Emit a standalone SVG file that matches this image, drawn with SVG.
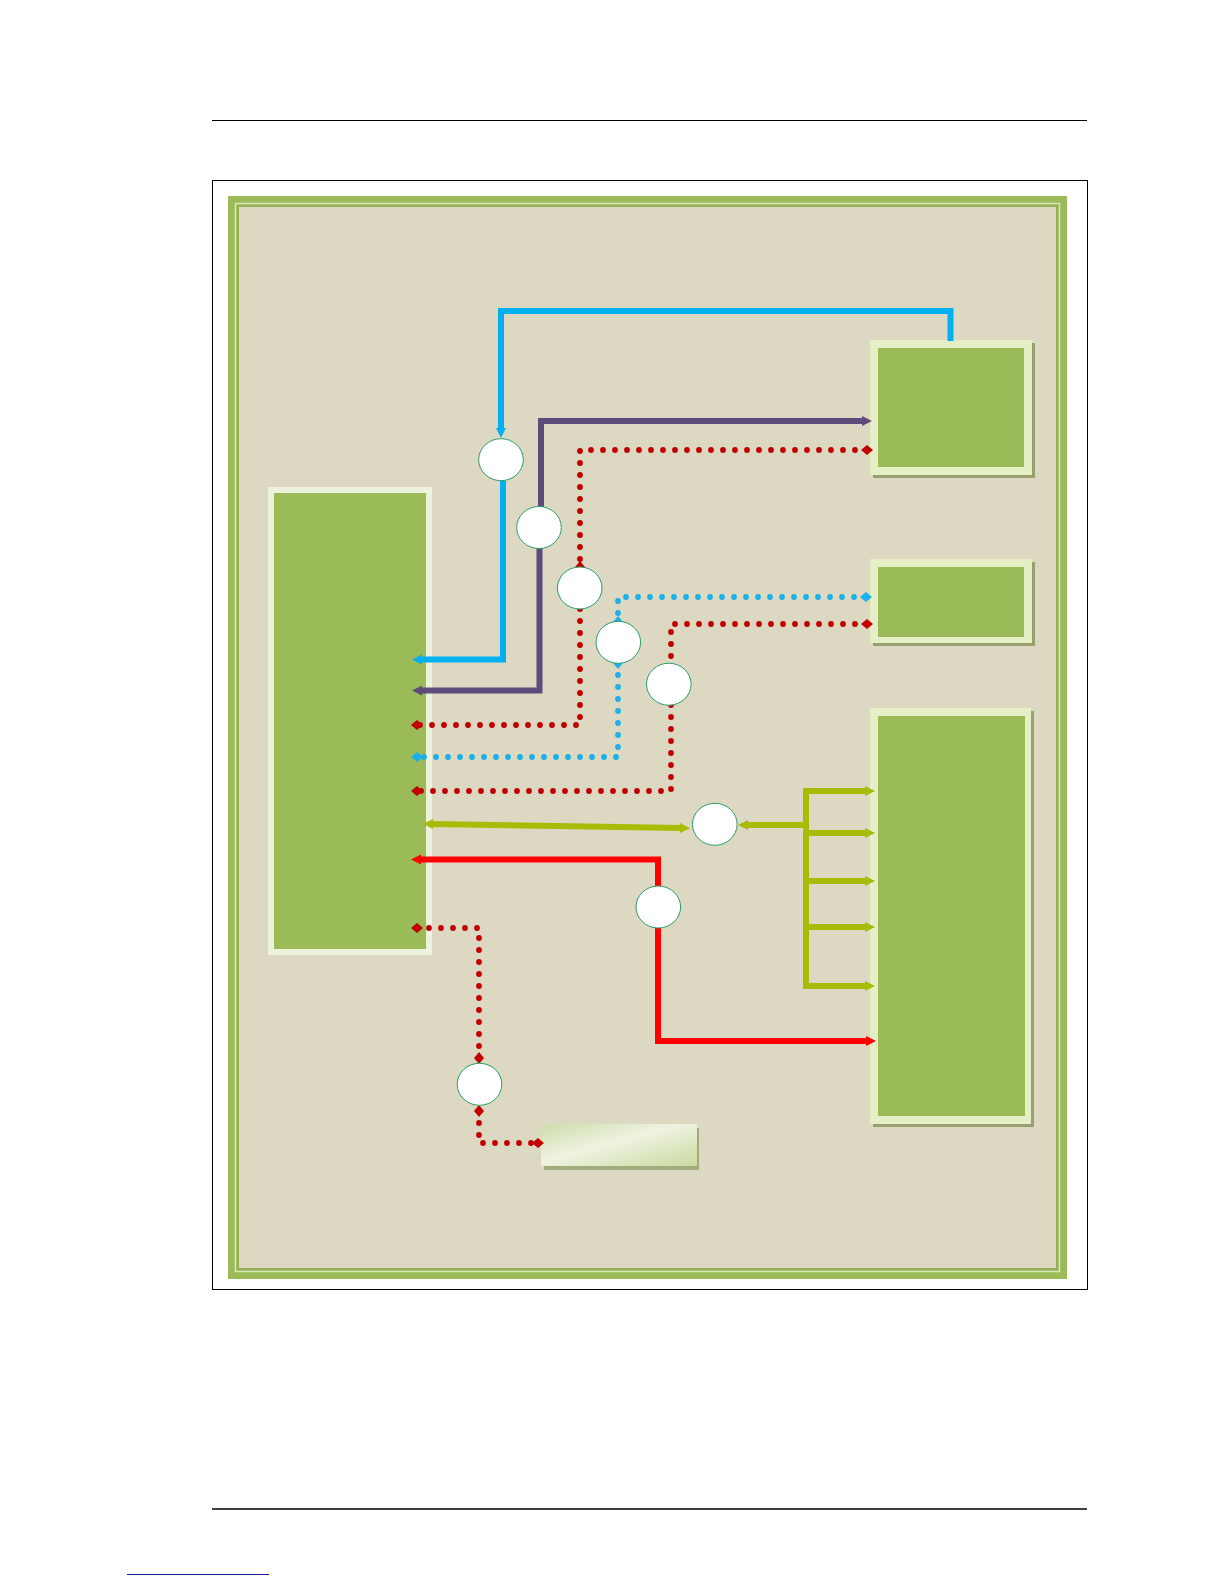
<svg xmlns="http://www.w3.org/2000/svg" width="1224" height="1584" viewBox="0 0 1224 1584">
  <style>
    .frame { fill: none; stroke: #000; stroke-width: 1; }
    .bx-light { fill: #e5eec4; }
    .bx-green { fill: #9bbb59; }
    .bx-shadow { fill: #9a9f72; }
    .circ { fill: #ffffff; stroke: #2a9d6c; stroke-width: 1; }
    .solid { fill: none; stroke-width: 6; stroke-linejoin: miter; }
    .dots { fill: none; stroke-width: 5.8; stroke-linecap: round; stroke-dasharray: 0 12; }
  </style>
  <defs>
    <linearGradient id="smallGrad" x1="0" y1="0" x2="1" y2="1">
      <stop offset="0" stop-color="#cddcaa"/>
      <stop offset="0.45" stop-color="#eef3e1"/>
      <stop offset="1" stop-color="#c9da9f"/>
    </linearGradient>
    <marker id="arBlue" viewBox="0 0 10 10" refX="2" refY="5" markerWidth="10" markerHeight="11" markerUnits="userSpaceOnUse" orient="auto-start-reverse"><path d="M0,0 L10,5 L0,10 z" fill="#00b0f0"/></marker>
    <marker id="arPurple" viewBox="0 0 10 10" refX="2" refY="5" markerWidth="10" markerHeight="11" markerUnits="userSpaceOnUse" orient="auto-start-reverse"><path d="M0,0 L10,5 L0,10 z" fill="#5f4b7b"/></marker>
    <marker id="arOlive" viewBox="0 0 10 10" refX="2" refY="5" markerWidth="10" markerHeight="10" markerUnits="userSpaceOnUse" orient="auto-start-reverse"><path d="M0,0 L10,5 L0,10 z" fill="#a8bc06"/></marker>
    <marker id="arRed" viewBox="0 0 10 10" refX="2" refY="5" markerWidth="10" markerHeight="11" markerUnits="userSpaceOnUse" orient="auto-start-reverse"><path d="M0,0 L10,5 L0,10 z" fill="#ff0000"/></marker>
    <marker id="dmRed" viewBox="0 0 12 10" refX="6" refY="5" markerWidth="12" markerHeight="10" markerUnits="userSpaceOnUse" orient="auto"><path d="M0,5 L6,0 L12,5 L6,10 z" fill="#c00000"/></marker>
    <marker id="dmBlue" viewBox="0 0 12 10" refX="6" refY="5" markerWidth="12" markerHeight="10" markerUnits="userSpaceOnUse" orient="auto"><path d="M0,5 L6,0 L12,5 L6,10 z" fill="#1cb0e8"/></marker>
  </defs>

  <rect width="1224" height="1584" fill="#ffffff"/>

  <g id="page">
    <line x1="212" y1="120.5" x2="1087" y2="120.5" stroke="#000" stroke-width="1"/>
    <rect class="frame" x="212.5" y="180.5" width="875" height="1109"/>
    <line x1="212" y1="1509" x2="1087" y2="1509" stroke="#000" stroke-width="1.5"/>
    <line x1="127" y1="1574.5" x2="269" y2="1574.5" stroke="#1a1a99" stroke-width="1"/>
  </g>

  <g id="background">
    <rect x="228" y="196" width="839" height="1083" fill="#9bbb59"/>
    <rect x="235.5" y="203.5" width="824" height="1068" fill="none" stroke="#d9e6bb" stroke-width="1.5"/>
    <rect x="238" y="206" width="819" height="1063" fill="none" stroke="#8fa955" stroke-width="1.2"/>
    <rect x="239" y="207" width="817" height="1061" fill="#ddd8c1"/>
  </g>

  <g id="node-left">
    <rect x="268" y="487" width="164" height="468" fill="#edf2dc"/>
    <rect class="bx-green" x="274" y="493" width="152" height="456"/>
  </g>

  <g id="node-top-right">
    <rect class="bx-shadow" x="873" y="343" width="162" height="135"/>
    <rect class="bx-light" x="870" y="340" width="162" height="135"/>
    <rect class="bx-green" x="878" y="348" width="146" height="119"/>
  </g>

  <g id="node-mid-right">
    <rect class="bx-shadow" x="873" y="562" width="162" height="84"/>
    <rect class="bx-light" x="870" y="559" width="162" height="84"/>
    <rect class="bx-green" x="878" y="567" width="146" height="70"/>
  </g>

  <g id="node-bottom-right">
    <rect class="bx-shadow" x="873" y="711" width="161" height="416"/>
    <rect class="bx-light" x="870" y="708" width="161" height="416"/>
    <rect class="bx-green" x="878" y="716" width="147" height="400"/>
  </g>

  <g id="node-bottom-small">
    <rect x="544" y="1128" width="155" height="42" fill="#a3ab7c"/>
    <rect x="541" y="1124" width="156" height="42" fill="url(#smallGrad)"/>
  </g>

  <g id="connectors">
    <path class="solid" stroke="#00b0f0" d="M950.5,341 V311 H501 V430" marker-end="url(#arBlue)"/>
    <path class="solid" stroke="#00b0f0" d="M503,481 V659.5 H420" marker-end="url(#arBlue)"/>
    <path class="solid" stroke="#5f4b7b" d="M541,507 V421 H864" marker-end="url(#arPurple)"/>
    <path class="solid" stroke="#5f4b7b" d="M539.5,548 V690.5 H420" marker-end="url(#arPurple)"/>
    <path class="dots" stroke="#c00000" d="M867,450 H580 V567" marker-start="url(#dmRed)" marker-end="url(#dmRed)"/>
    <path class="dots" stroke="#c00000" d="M580,609 V725 H417" marker-end="url(#dmRed)"/>
    <path class="dots" stroke="#1cb0e8" d="M866,597 H618 V622" marker-start="url(#dmBlue)" marker-end="url(#dmBlue)"/>
    <path class="dots" stroke="#1cb0e8" d="M618,663 V757 H417" marker-start="url(#dmBlue)" marker-end="url(#dmBlue)"/>
    <path class="dots" stroke="#c00000" d="M867,624 H671 V663" marker-start="url(#dmRed)"/>
    <path class="dots" stroke="#c00000" d="M671,705 V791 H417" marker-end="url(#dmRed)"/>
    <path class="solid" stroke="#a8bc06" stroke-width="5.5" d="M431,824 L682,828" marker-start="url(#arOlive)" marker-end="url(#arOlive)"/>
    <path class="solid" stroke="#a8bc06" stroke-width="5.5" d="M806,825 H746" marker-end="url(#arOlive)"/>
    <path class="solid" stroke="#a8bc06" d="M806,788 V989"/>
    <path class="solid" stroke="#a8bc06" stroke-width="5.5" d="M803,791 H867" marker-end="url(#arOlive)"/>
    <path class="solid" stroke="#a8bc06" stroke-width="5.5" d="M803,833 H867" marker-end="url(#arOlive)"/>
    <path class="solid" stroke="#a8bc06" stroke-width="5.5" d="M803,881 H867" marker-end="url(#arOlive)"/>
    <path class="solid" stroke="#a8bc06" stroke-width="5.5" d="M803,927 H867" marker-end="url(#arOlive)"/>
    <path class="solid" stroke="#a8bc06" stroke-width="5.5" d="M803,986 H867" marker-end="url(#arOlive)"/>
    <path class="solid" stroke="#ff0000" d="M658,886 V859.5 H419" marker-end="url(#arRed)"/>
    <path class="solid" stroke="#ff0000" d="M658,928 V1041 H868" marker-end="url(#arRed)"/>
    <path class="dots" stroke="#c00000" d="M417,928 H479 V1058" marker-start="url(#dmRed)" marker-end="url(#dmRed)"/>
    <path class="dots" stroke="#c00000" d="M479,1111 V1143 H538" marker-start="url(#dmRed)" marker-end="url(#dmRed)"/>
  </g>

  <g id="junction-1"><ellipse class="circ" cx="501" cy="459.7" rx="22.3" ry="21"/></g>
  <g id="junction-2"><ellipse class="circ" cx="539" cy="527.5" rx="22.3" ry="21"/></g>
  <g id="junction-3"><ellipse class="circ" cx="579.7" cy="588" rx="22.3" ry="21"/></g>
  <g id="junction-4"><ellipse class="circ" cx="618.3" cy="642.3" rx="22.3" ry="21"/></g>
  <g id="junction-5"><ellipse class="circ" cx="668.8" cy="684.2" rx="22.3" ry="21"/></g>
  <g id="junction-6"><ellipse class="circ" cx="714.8" cy="824.3" rx="22.3" ry="21"/></g>
  <g id="junction-7"><ellipse class="circ" cx="658.3" cy="907" rx="22.3" ry="21"/></g>
  <g id="junction-8"><ellipse class="circ" cx="479.5" cy="1084.3" rx="22.3" ry="21"/></g>
</svg>
